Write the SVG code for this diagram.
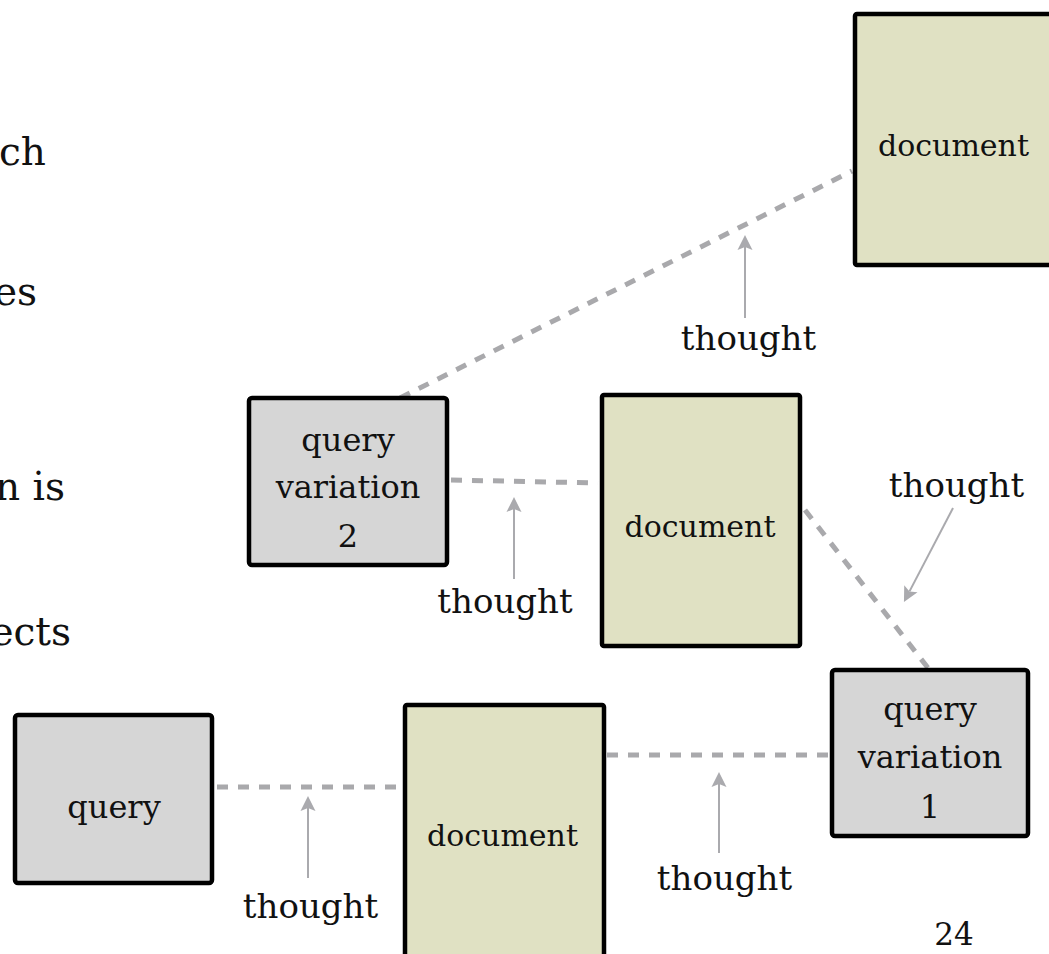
<svg xmlns="http://www.w3.org/2000/svg" width="1049" height="954" viewBox="0 0 1049 954">
  <style>
    text { font-family: "DejaVu Serif", "Liberation Serif", serif; fill: #111; }
    .body { font-size: 39px; }
    .lbl { font-size: 30px; text-anchor: middle; }
    .qlbl { font-size: 32px; text-anchor: middle; }
    .th { font-size: 34px; text-anchor: middle; }
    .page { font-size: 31px; text-anchor: middle; }
    .doc { fill: #e0e1c3; stroke: #000; stroke-width: 4.5; }
    .qry { fill: #d6d6d6; stroke: #000; stroke-width: 4.5; }
    .link { fill: none; stroke: #a9a9ac; stroke-width: 5; stroke-dasharray: 11 10; }
    .ann { fill: none; stroke: #aaaaae; stroke-width: 2; marker-end: url(#head); }
  </style>
  <defs>
    <marker id="head" viewBox="0 0 16 16" refX="3" refY="8" markerWidth="16" markerHeight="16" markerUnits="userSpaceOnUse" orient="auto">
      <path d="M0,0.5 L15,8 L0,15.5 L3,8 z" fill="#aaaaae"/>
    </marker>
  </defs>
  <rect width="1049" height="954" fill="#fff"/>

  <!-- slide body text, running past the left edge -->
  <g id="body-text" class="body">
    <text x="46" y="165" text-anchor="end">ch</text>
    <text x="37" y="305" text-anchor="end">es</text>
    <text x="65" y="500" text-anchor="end">n is</text>
    <text x="71" y="645" text-anchor="end">ects</text>
  </g>

  <!-- dashed links between queries and documents -->
  <g id="connectors">
    <line class="link" x1="400" y1="398" x2="852" y2="171"/>
    <line class="link" x1="451" y1="480" x2="598" y2="483"/>
    <line class="link" x1="805" y1="510" x2="928" y2="668"/>
    <line class="link" x1="217" y1="787" x2="401" y2="787"/>
    <line class="link" x1="607" y1="755" x2="829" y2="755"/>
  </g>

  <!-- "thought" annotations -->
  <g id="thoughts">
    <line class="ann" x1="745" y1="318" x2="745" y2="247"/>
    <text class="th" x="748.5" y="350">thought</text>
    <line class="ann" x1="514" y1="579" x2="514" y2="509"/>
    <text class="th" x="505" y="613">thought</text>
    <line class="ann" x1="953" y1="508" x2="909.5" y2="591.4"/>
    <text class="th" x="956.5" y="497">thought</text>
    <line class="ann" x1="308" y1="878" x2="308" y2="808"/>
    <text class="th" x="310.5" y="918">thought</text>
    <line class="ann" x1="719" y1="853" x2="719" y2="784"/>
    <text class="th" x="724.5" y="890">thought</text>
  </g>

  <g id="doc-top">
    <rect class="doc" x="855" y="14" width="250" height="251" rx="2"/>
    <text class="lbl" x="953.5" y="156">document</text>
  </g>

  <g id="query-variation-2">
    <rect class="qry" x="249" y="398" width="198" height="167" rx="3"/>
    <text class="qlbl" x="348" y="451">query</text>
    <text class="qlbl" x="348" y="498">variation</text>
    <text class="qlbl" x="348" y="547">2</text>
  </g>

  <g id="doc-middle">
    <rect class="doc" x="602" y="395" width="198" height="251" rx="2"/>
    <text class="lbl" x="700" y="537">document</text>
  </g>

  <g id="query-variation-1">
    <rect class="qry" x="832" y="670" width="196" height="166" rx="3"/>
    <text class="qlbl" x="930" y="720">query</text>
    <text class="qlbl" x="930" y="768">variation</text>
    <text class="qlbl" x="930" y="818">1</text>
  </g>

  <g id="query">
    <rect class="qry" x="15" y="715" width="197" height="168" rx="3"/>
    <text class="qlbl" x="114" y="818">query</text>
  </g>

  <g id="doc-bottom">
    <rect class="doc" x="405" y="705" width="199" height="260" rx="2"/>
    <text class="lbl" x="502.5" y="846">document</text>
  </g>

  <text id="page-number" class="page" x="954" y="945">24</text>
</svg>
